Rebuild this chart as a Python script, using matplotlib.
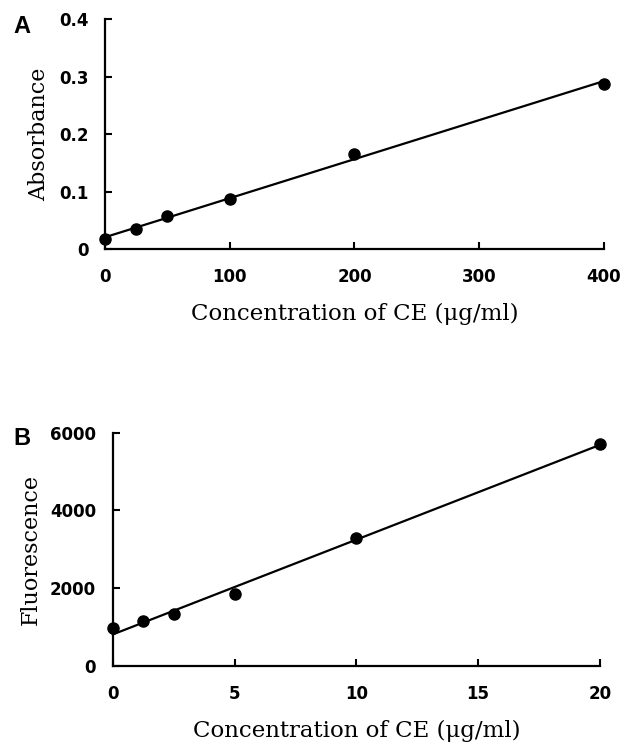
import numpy as np
import matplotlib.pyplot as plt

# panel A: absorbance vs concentration
conc_a = [0, 25, 50, 100, 200, 400]
abs_a = [0.018, 0.034, 0.057, 0.087, 0.166, 0.288]

# panel B: fluorescence vs concentration
conc_b = [0, 1.25, 2.5, 5, 10, 20]
fluo_b = [970, 1150, 1330, 1860, 3290, 5720]

xlabel = "Concentration of CE (\u03bcg/ml)"

fig = plt.figure(figsize=(6.23, 7.42), dpi=100)
axA = fig.add_axes([0.1685, 0.6644, 0.801, 0.3096])
axB = fig.add_axes([0.181, 0.1024, 0.782, 0.3144])

def style(ax, ylab, xt, yt, xlim, ylim, yticklab=None):
    for s in ["top", "right"]:
        ax.spines[s].set_visible(False)
    for s in ["left", "bottom"]:
        ax.spines[s].set_linewidth(1.6)
    ax.set_xlim(xlim)
    ax.set_ylim(ylim)
    ax.set_xticks(xt)
    ax.set_yticks(yt)
    if yticklab is not None:
        ax.set_yticklabels(yticklab)
    ax.tick_params(direction="in", length=5, width=1.5, labelsize=12)
    ax.tick_params(axis="x", pad=14)
    ax.tick_params(axis="y", pad=12)
    for lab in ax.get_xticklabels() + ax.get_yticklabels():
        lab.set_fontweight("bold")
        lab.set_family("DejaVu Sans")
    ax.set_xlabel(xlabel, family="DejaVu Serif", fontsize=16.5, labelpad=12)
    ax.set_ylabel(ylab, family="DejaVu Serif", fontsize=16, labelpad=6)

# A
m, c = np.polyfit(conc_a, abs_a, 1)
xx = np.array([0, 400])
axA.plot(xx, m * xx + c, color="black", lw=1.6, clip_on=False)
axA.plot(conc_a, abs_a, "o", color="black", ms=8, clip_on=False, zorder=3)
style(axA, "Absorbance", [0, 100, 200, 300, 400], [0, 0.1, 0.2, 0.3, 0.4],
      (0, 400), (0, 0.4), ["0", "0.1", "0.2", "0.3", "0.4"])

# B
m, c = np.polyfit(conc_b, fluo_b, 1)
xx = np.array([0, 20])
axB.plot(xx, m * xx + c, color="black", lw=1.6, clip_on=False)
axB.plot(conc_b, fluo_b, "o", color="black", ms=8, clip_on=False, zorder=3)
style(axB, "Fluorescence", [0, 5, 10, 15, 20], [0, 2000, 4000, 6000],
      (0, 20), (0, 6000))

fig.text(0.022, 0.955, "A", fontsize=17, fontweight="bold", family="Liberation Sans")
fig.text(0.022, 0.40, "B", fontsize=17, fontweight="bold", family="Liberation Sans")

fig.savefig("out.png", dpi=100)
